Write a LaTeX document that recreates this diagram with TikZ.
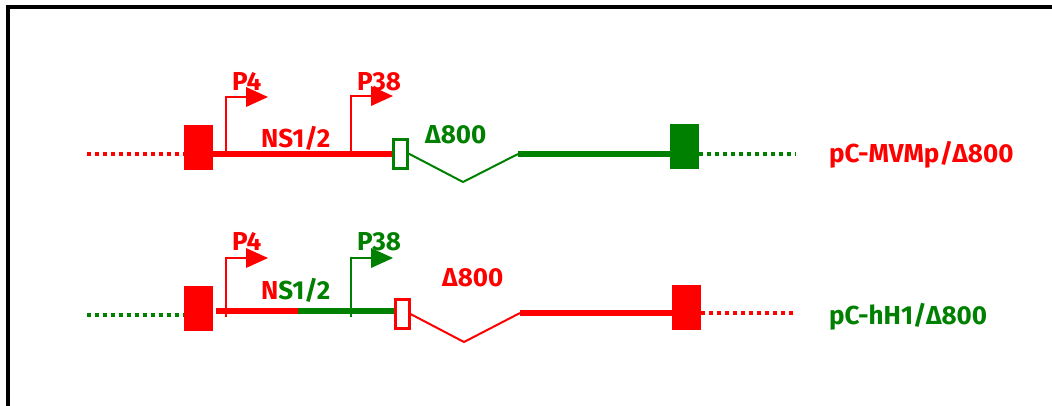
\documentclass[tikz,border=0pt]{standalone}
\usepackage{fontspec}
\setmainfont{Fira Sans}
\definecolor{dgreen}{RGB}{0,128,0}
\definecolor{pred}{RGB}{255,0,0}
\begin{document}
\begin{tikzpicture}[x=1pt,y=-1pt,
  lbl/.style={font=\bfseries\fontsize{26}{28}\selectfont, inner sep=0pt, anchor=base west},
  exonbox/.style={minimum width=29pt, minimum height=45pt, inner sep=0pt, draw=none},
  openbox/.style={minimum width=14pt, minimum height=29pt, inner sep=0pt, line width=3pt, fill=white},
  thickline/.style={line width=6pt},
  dotline/.style={line width=4.5pt, dash pattern=on 4pt off 4pt},
  vline/.style={line width=2pt},
  pics/prom/.style={code={
    \draw[vline] (0,0) -- (0,-#1) -- (21,-#1);
    \fill (20,-#1-10) -- (42,-#1) -- (20,-#1+10) -- cycle;}}
]
\useasboundingbox (0,0) rectangle (1052,405);
\draw[line width=4pt] (8,430) -- (8,7) -- (1080,7);

% ---------- row 1 ----------
\node[exonbox, fill=pred] (L1) at (198.5,147) {};
\node[exonbox, fill=dgreen] (R1) at (684.5,146.5) {};
\coordinate (D1s) at (87,154);
\coordinate (D1e) at (796,154);
\coordinate (V1) at (463,182);
\coordinate (J1) at (518,154);
\draw[dotline, pred] (D1s) -- (D1s -| L1.west);
\pic[pred] at (226,154) {prom=57};
\pic[pred] at (351,154) {prom=58};
\node[openbox, draw=dgreen] (O1) at (400,153.5) {};
\draw[thickline, pred] (L1.east |- D1s) -- (O1.west |- D1s);
\draw[vline, dgreen] (O1.east) -- (V1) -- (J1);
\draw[thickline, dgreen] (J1) -- (J1 -| R1.west);
\draw[dotline, dgreen] (R1.east |- D1e) -- (D1e);

\node[lbl, pred] (p41) at (232,90) {P4};
\node[lbl, pred] (p381) at (357,90) {P38};
\node[lbl, pred] (ns1) at (261,147) {NS1/2};
\node[lbl, dgreen] (d1) at (425,143) {Δ800};
\node[lbl, pred] (n1) at (829,162) {pC-MVMp/Δ800};

% ---------- row 2 ----------
\node[exonbox, fill=pred] (L2) at (198.5,308.5) {};
\node[exonbox, fill=pred] (R2) at (686.5,307) {};
\coordinate (D2s) at (87,315);
\coordinate (D2e) at (797,313);
\coordinate (S2) at (216,311);
\coordinate (M2) at (298,311);
\coordinate (V2) at (464,342);
\coordinate (J2) at (520,313);
\draw[dotline, dgreen] (D2s) -- (D2s -| L2.west);
\pic[pred] at (226,317) {prom=59};
\pic[dgreen] at (351,317) {prom=59};
\node[openbox, draw=pred] (O2) at (402,314) {};
\draw[thickline, pred] (S2) -- (M2);
\draw[thickline, dgreen] (M2) -- (O2.west |- M2);
\draw[vline, pred] (O2.east) -- (V2) -- (J2);
\draw[thickline, pred] (J2) -- (J2 -| R2.west);
\draw[dotline, pred] (R2.east |- D2e) -- (D2e);

\node[lbl, pred] (p42) at (232,250) {P4};
\node[lbl, dgreen] (p382) at (357,250) {P38};
\node[lbl] (ns2) at (261,299) {\textcolor{pred}{N}\textcolor{dgreen}{S1/2}};
\node[lbl, pred] (d2) at (442,286) {Δ800};
\node[lbl, dgreen] (n2) at (829,324) {pC-hH1/Δ800};
\end{tikzpicture}
\end{document}
